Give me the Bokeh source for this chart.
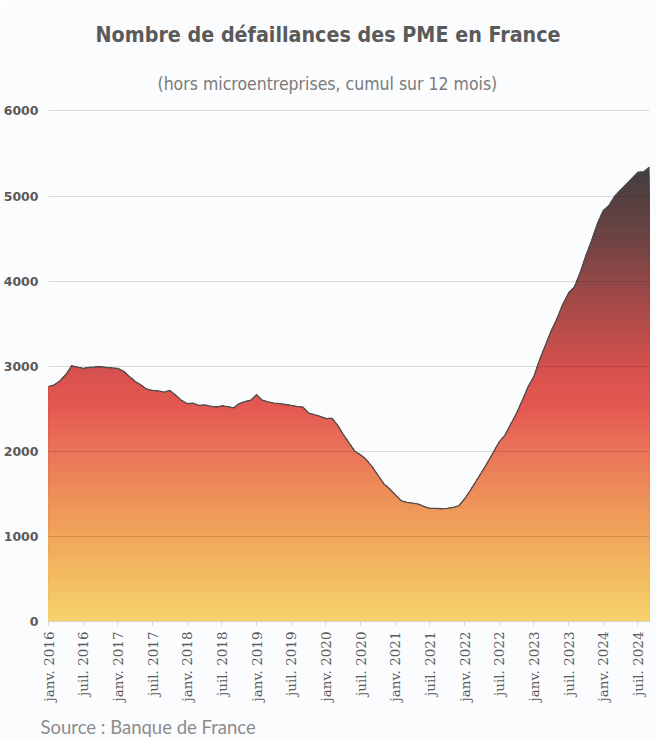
import numpy as np
from bokeh.plotting import figure
from bokeh.models import FixedTicker, Range1d, Title
from bokeh.embed import file_html
from bokeh.resources import INLINE

# ---- data (monthly, janv. 2016 -> sept. 2024) ----
values = [
    2760, 2780, 2830, 2900, 3005, 2990, 2975, 2985, 2990, 2995, 2985, 2980,   # 2016
    2975, 2940, 2880, 2820, 2780, 2730, 2715, 2710, 2695, 2715, 2660, 2600,   # 2017
    2560, 2565, 2540, 2545, 2530, 2520, 2535, 2525, 2510, 2560, 2585, 2600,   # 2018
    2665, 2600, 2580, 2565, 2560, 2550, 2540, 2525, 2520, 2450, 2430, 2410,   # 2019
    2385, 2390, 2310, 2200, 2100, 2000, 1960, 1900, 1820, 1720, 1620, 1560,   # 2020
    1490, 1420, 1400, 1390, 1380, 1350, 1330, 1330, 1325, 1330, 1340, 1360,   # 2021
    1440, 1540, 1650, 1760, 1870, 1990, 2110, 2190, 2320, 2450, 2600, 2760,   # 2022
    2880, 3080, 3250, 3420, 3560, 3730, 3860, 3930, 4100, 4300, 4480, 4680,   # 2023
    4830, 4890, 5000, 5070, 5140, 5210, 5280, 5285, 5340,                     # 2024
]
tick_months = [0, 6, 12, 18, 24, 30, 36, 42, 48, 54, 60, 66, 72, 78, 84, 90, 96, 102]
tick_labels = ["janv. 2016", "juil. 2016", "janv. 2017", "juil. 2017", "janv. 2018",
               "juil. 2018", "janv. 2019", "juil. 2019", "janv. 2020", "juil. 2020",
               "janv. 2021", "juil. 2021", "janv. 2022", "juil. 2022", "janv. 2023",
               "juil. 2023", "janv. 2024", "juil. 2024"]
y_ticks = [0, 1000, 2000, 3000, 4000, 5000, 6000]

title_text = "Nombre de défaillances des PME en France"
subtitle_text = "(hors microentreprises, cumul sur 12 mois)"
source_text = "Source : Banque de France"

# ---- style ----
BG = "#fbfcfd"
grad_stops = [(0, "#f6d36c"), (500, "#f3bd62"), (1000, "#f0a65a"), (1500, "#ed8e58"),
              (2000, "#ea7458"), (2500, "#e45a52"), (2800, "#dc524e"), (3200, "#c94f4c"),
              (3600, "#ae4c4a"), (4000, "#924847"), (4500, "#6e4343"), (5000, "#534040"),
              (5400, "#3f3f3f")]


def hex2rgb(h):
    h = h.lstrip("#")
    return np.array([int(h[i:i + 2], 16) for i in (0, 2, 4)], dtype=float)


def grad_color(v):
    for (v0, c0), (v1, c1) in zip(grad_stops[:-1], grad_stops[1:]):
        if v <= v1:
            t = (v - v0) / (v1 - v0)
            c = hex2rgb(c0) * (1 - t) + hex2rgb(c1) * t
            return "#%02x%02x%02x" % tuple(int(round(x)) for x in c)
    return grad_stops[-1][1]


x = np.arange(len(values))
vals = np.array(values, dtype=float)

p = figure(width=656, height=739, output_backend="svg", toolbar_location=None, title=None,
           x_range=Range1d(0, len(values) - 1), y_range=Range1d(0, 6040),
           min_border_left=48, min_border_right=7, min_border_top=107, min_border_bottom=118,
           background_fill_color=BG, border_fill_color=BG)
p.outline_line_color = None

# titles (first added = closest to the frame)
p.add_layout(Title(text=subtitle_text, align="left", offset=109, standoff=21.6,
                   vertical_align="top",
                   text_font="DejaVu Sans Condensed", text_font_style="normal",
                   text_font_size="17.5px", text_color="#7a7a7a"), "above")
p.add_layout(Title(text=title_text, align="left", offset=47, standoff=29.4,
                   vertical_align="top",
                   text_font="DejaVu Sans Condensed", text_font_style="bold",
                   text_font_size="21.3px", text_color="#5a5a5a"), "above")
# thin spacer between the x axis and the source line
p.add_layout(Title(text=" ", standoff=6.5, text_font_size="2px", text_color=BG), "below")
p.add_layout(Title(text=source_text, align="left", offset=-8, standoff=0,
                   vertical_align="top",
                   text_font="Lato", text_font_style="normal",
                   text_font_size="18.5px", text_color="#8c8c8c"), "below")

# gradient fill, drawn as stacked horizontal bands (top first)
step = 40
edges = np.arange(step, 5400 + step, step)
for hi in edges[::-1]:
    p.varea(x=x, y1=np.zeros_like(vals), y2=np.minimum(vals, hi),
            fill_color=grad_color(hi - step / 2), fill_alpha=1.0)

p.line(x, vals, line_color="#4d4d4d", line_width=1.3)

p.xaxis.ticker = FixedTicker(ticks=tick_months)
p.xaxis.major_label_overrides = {m: lab for m, lab in zip(tick_months, tick_labels)}
p.xaxis.major_label_orientation = np.pi / 2
p.xaxis.major_label_text_font = "DejaVu Serif"
p.xaxis.major_label_text_font_size = "13.5px"
p.xaxis.major_label_text_color = "#595959"
p.xaxis.axis_line_color = "#d4d4d4"
p.xaxis.major_tick_line_color = "#d4d4d4"
p.xaxis.major_tick_out = 4
p.xaxis.major_tick_in = 0
p.xaxis.minor_tick_line_color = None
p.xaxis.major_label_standoff = 6

p.yaxis.ticker = FixedTicker(ticks=y_ticks)
p.yaxis.axis_line_color = None
p.yaxis.major_tick_line_color = None
p.yaxis.minor_tick_line_color = None
p.yaxis.major_tick_out = 0
p.yaxis.major_tick_in = 0
p.yaxis.major_label_text_font = "DejaVu Sans"
p.yaxis.major_label_text_font_style = "bold"
p.yaxis.major_label_text_font_size = "12.5px"
p.yaxis.major_label_text_color = "#5a5a5a"
p.yaxis.major_label_standoff = 10

p.xgrid.grid_line_color = None
p.ygrid.grid_line_color = "#000000"
p.ygrid.grid_line_alpha = 0.13
p.ygrid.level = "annotation"

open("out.html", "w").write(file_html(p, INLINE))
